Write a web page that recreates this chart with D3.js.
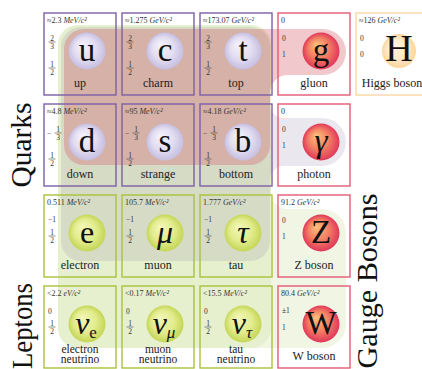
<!DOCTYPE html>
<html><head><meta charset="utf-8">
<script src="https://cdn.jsdelivr.net/npm/d3@7"></script>
<style>html,body{margin:0;padding:0;background:#fff;overflow:hidden}svg{display:block}</style>
</head><body>
<script>
// ---- data ----
const symbols    = ["u","c","t","g","H","d","s","b","γ","e","μ","τ","Z","ν","ν","ν","W"];
const subscripts = ["","","","","","","","","","","","","","e","μ","τ",""];
const names      = ["up","charm","top","gluon","Higgs boson","down","strange","bottom","photon",
                    "electron","muon","tau","Z boson","electron neutrino","muon neutrino","tau neutrino","W boson"];
const massValues = ["≈2.3","≈1.275","≈173.07","0","≈126","≈4.8","≈95","≈4.18","0",
                    "0.511","105.7","1.777","91.2","<2.2","<0.17","<15.5","80.4"];
const massUnits  = ["MeV/c²","GeV/c²","GeV/c²","","GeV/c²","MeV/c²","MeV/c²","GeV/c²","",
                    "MeV/c²","MeV/c²","GeV/c²","GeV/c²","eV/c²","MeV/c²","MeV/c²","GeV/c²"];
const charges    = ["2/3","2/3","2/3","0","0","-1/3","-1/3","-1/3","0","-1","-1","-1","0","0","0","0","±1"];
const spins      = ["1/2","1/2","1/2","1","0","1/2","1/2","1/2","1","1/2","1/2","1/2","1","1/2","1/2","1/2","1"];
const kinds      = ["quark","quark","quark","gauge","scalar","quark","quark","quark","gauge",
                    "lepton","lepton","lepton","gauge","lepton","lepton","lepton","gauge"];
const gridRow    = [0,0,0,0,0,1,1,1,1,2,2,2,2,3,3,3,3];
const gridCol    = [0,1,2,3,4,0,1,2,3,0,1,2,3,0,1,2,3];
const groupLabels = ["Quarks","Leptons","Gauge Bosons"];

// ---- layout / style ----
const W = 422, H = 369;
const FONT = "'Liberation Serif', 'DejaVu Serif', serif";
const svg = d3.select("body").append("svg").attr("width", W).attr("height", H)
  .style("font-family", FONT);
const x = d3.scaleLinear().domain([0, 1]).range([44, 122]);
const y = d3.scaleLinear().domain([0, 1]).range([13, 104]);
const cw = 72, ch = 82, ccx = 43, ccy = 38;

const border = {quark:"#7d5ea9", lepton:"#a9c23b", gauge:"#e35a76", scalar:"#f9d8a1"};
const symSize = {quark:33, lepton:32, gauge:33, scalar:38};

const defs = svg.append("defs");
const gradStops = {
  quark:  [[0, "#f5f3fc"], [0.6, "#e2ddf1"], [1, "#c6bee0"]],
  lepton: [[0, "#f3f7b8"], [0.6, "#e2ec8e"], [1, "#c4d656"]],
  gauge:  [[0, "#fcc27c"], [0.55, "#f38064"], [1, "#e0385a"]],
  scalar: [[0, "#fff6e2"], [0.6, "#fee9c4"], [1, "#fbd69c"]]
};
Object.keys(gradStops).forEach(k => {
  const g = defs.append("radialGradient").attr("id", "grad-" + k)
    .attr("cx", "50%").attr("cy", "50%").attr("r", "50%").attr("fx", "36%").attr("fy", "32%");
  gradStops[k].forEach(s => g.append("stop").attr("offset", s[0]).attr("stop-color", s[1]));
});

function roundedPoly(pts) {
  const p = d3.path(), n = pts.length;
  const a0 = pts[n - 1], b0 = pts[0];
  p.moveTo((a0[0] + b0[0]) / 2, (a0[1] + b0[1]) / 2);
  for (let i = 0; i < n; i++) {
    const a = pts[i], b = pts[(i + 1) % n];
    p.arcTo(a[0], a[1], b[0], b[1], a[2]);
  }
  p.closePath();
  return p.toString();
}

// interaction regions (derived from the grid)
const right3 = x(2) + cw - 2;
const bulgeR = x(3) + ccx + 25;
const weak = [
  [x(0) + 14, y(0) + 12, 20], [right3 + 1, y(0) + 12, 20], [right3 + 1, y(2) + ccy - 24, 16],
  [bulgeR, y(2) + ccy - 24, 24], [bulgeR, y(3) + 62, 24], [x(0) + 14, y(3) + 62, 20]
];
const fermions = [
  [x(0) + 14, y(0) + 12, 20], [right3 + 1, y(0) + 12, 20],
  [right3 + 1, y(3) + 62, 20], [x(0) + 14, y(3) + 62, 20]
];
const em = [
  [x(0) + 17, y(0) + 14, 20], [right3, y(0) + 14, 20], [right3, y(1) + ccy - 24, 14],
  [bulgeR, y(1) + ccy - 24, 24], [bulgeR, y(1) + ccy + 24, 24], [right3, y(1) + ccy + 24, 14],
  [right3, y(2) + 66, 20], [x(0) + 17, y(2) + 66, 20]
];
const strong = [
  [x(0) + 20, y(0) + 16, 20], [bulgeR, y(0) + 16, 23], [bulgeR, y(0) + ccy + 24, 23],
  [right3, y(0) + ccy + 24, 18], [right3, y(1) + 61, 20], [x(0) + 20, y(1) + 61, 20]
];
svg.append("g").attr("opacity", 0.22).append("path").attr("d", roundedPoly(weak)).attr("fill", "#bcd67e");
svg.append("g").attr("opacity", 0.2).append("path").attr("d", roundedPoly(fermions)).attr("fill", "#bcd67e");
svg.append("g").attr("opacity", 0.2).append("path").attr("d", roundedPoly(em)).attr("fill", "#968ca8");
svg.append("g").attr("opacity", 0.33).append("path").attr("d", roundedPoly(strong)).attr("fill", "#d65c66");

// cells
const idx = d3.range(symbols.length);
const cells = svg.selectAll("g.cell").data(idx).join("g").attr("class", "cell")
  .attr("transform", i => `translate(${x(gridCol[i])},${y(gridRow[i])})`);

cells.append("rect").attr("x", 0).attr("y", 0).attr("width", cw).attr("height", ch)
  .attr("fill", "none").attr("stroke", i => border[kinds[i]]).attr("stroke-width", 1.4);

cells.append("circle").attr("cx", ccx).attr("cy", ccy)
  .attr("r", i => kinds[i] === "scalar" ? 17 : 18.5)
  .attr("fill", i => `url(#grad-${kinds[i]})`);

const greek = s => /[α-ωΑ-Ω]/.test(s);
cells.each(function (i) {
  const g = d3.select(this);
  const t = g.append("text").attr("x", ccx + (subscripts[i] ? -1 : 0)).attr("y", ccy + 10)
    .attr("text-anchor", "middle").attr("fill", "#111")
    .style("font-size", symSize[kinds[i]] + "px");
  t.append("tspan").text(symbols[i]).style("font-style", greek(symbols[i]) ? "italic" : "normal");
  if (subscripts[i]) {
    t.append("tspan").attr("dy", 4).style("font-size", "17px")
      .style("font-style", greek(subscripts[i]) ? "italic" : "normal").text(subscripts[i]);
  }

  // mass
  const m = g.append("text").attr("x", 3).attr("y", 10).attr("fill", "#333").style("font-size", "8px");
  m.append("tspan").text(massValues[i]);
  if (massUnits[i]) m.append("tspan").style("font-style", "italic").text(" " + massUnits[i]);

  // charge & spin
  const k = kinds[i];
  drawValue(g, charges[i], k === "quark" ? 29 : 24.5, 28);
  drawValue(g, spins[i], k === "quark" ? 55 : 41, 44);

  // name
  const parts = names[i].includes("neutrino") ? names[i].split(" ") : [names[i]];
  const nt = g.append("text").attr("text-anchor", "middle").attr("fill", "#222")
    .style("font-size", parts.length > 1 ? "11.5px" : "12px");
  parts.forEach((p, j) => {
    nt.append("tspan").attr("x", cw / 2).attr("y", parts.length > 1 ? 66.5 + j * 10.5 : 74).text(p);
  });
});

function drawValue(g, str, lineY, plainY) {
  const fs = "7.5px";
  if (str.includes("/")) {
    let s = str, cx = 8;
    if (s.startsWith("-")) {
      s = s.slice(1); cx = 14;
      g.append("text").attr("x", 3).attr("y", lineY + 2.5).style("font-size", fs).attr("fill", "#333").text("−");
    }
    const [nu, de] = s.split("/");
    g.append("text").attr("x", cx).attr("y", lineY - 1.5).attr("text-anchor", "middle")
      .style("font-size", fs).attr("fill", "#333").text(nu);
    g.append("line").attr("x1", cx - 3.5).attr("x2", cx + 3.5).attr("y1", lineY).attr("y2", lineY)
      .attr("stroke", "#444").attr("stroke-width", 0.6);
    g.append("text").attr("x", cx).attr("y", lineY + 7).attr("text-anchor", "middle")
      .style("font-size", fs).attr("fill", "#333").text(de);
  } else {
    const yy = str === "-1" || str === "±1" ? 26.5 : plainY;
    g.append("text").attr("x", 4).attr("y", yy).style("font-size", fs).attr("fill", "#333")
      .text(str.replace("-", "−"));
  }
}

// group labels
const labelPos = [[31, 145], [32, 326], [377, 281]];
const labelLen = [85, 86, 175];
svg.selectAll("text.group").data(groupLabels).join("text").attr("class", "group")
  .attr("transform", (d, i) => `translate(${labelPos[i][0]},${labelPos[i][1]}) rotate(-90)`)
  .attr("text-anchor", "middle").attr("fill", "#111").style("font-size", "30px")
  .attr("textLength", (d, i) => labelLen[i]).attr("lengthAdjust", "spacingAndGlyphs")
  .text(d => d);
</script>
</body></html>
